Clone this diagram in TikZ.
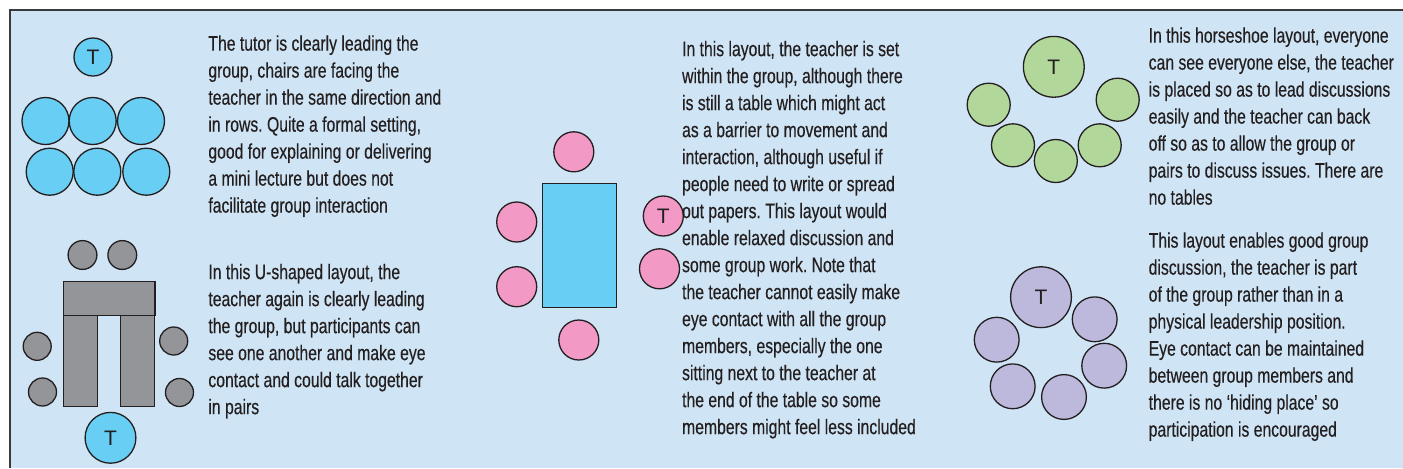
\documentclass[tikz,border=0pt]{standalone}
\usepackage{fontspec}
\setmainfont{Liberation Sans}
\newfontfamily\notefont[FakeStretch=0.75,FakeBold=0.35]{Liberation Sans}
\usetikzlibrary{positioning}
\frenchspacing
\definecolor{panelbg}{HTML}{CFE4F4}
\definecolor{ink}{HTML}{231F20}
\definecolor{frame}{HTML}{3A3A3C}
\definecolor{skyseat}{HTML}{68CEF4}
\definecolor{pinkseat}{HTML}{F29AC5}
\definecolor{greenseat}{HTML}{B1D79A}
\definecolor{lilacseat}{HTML}{BDB9DC}
\definecolor{greydesk}{HTML}{939598}
\tikzset{
  seat/.style={draw=ink, circle, line width=0.65pt, inner sep=0pt, text=ink, font=\fontsize{10.5}{12}\selectfont},
  desk/.style={draw=ink, rectangle, line width=0.65pt, inner sep=0pt},
  note/.style={anchor=north west, inner sep=0pt, align=left, text=ink, font=\notefont\fontsize{10.5}{13.5}\selectfont},
}

\begin{document}
\begin{tikzpicture}[x=0.5pt, y=-0.5pt]
  \useasboundingbox (0,0) rectangle (1403,468);
  \fill[panelbg] (10,10) rectangle (1403,468);
  \draw[frame, line width=1pt] (10,468) -- (10,10) -- (1403,10);

  % rows facing the tutor
  \node[seat, fill=skyseat, minimum size=19pt] (rowsT) at (93,57) {T};
  \node[seat, fill=skyseat, minimum size=23.5pt] (rowA1) at (45.5,121) {};
  \node[seat, fill=skyseat, minimum size=23.5pt] (rowA2) at (92.7,121) {};
  \node[seat, fill=skyseat, minimum size=23.5pt] (rowA3) at (141,121) {};
  \node[seat, fill=skyseat, minimum size=23.5pt] (rowB1) at (49.7,171.7) {};
  \node[seat, fill=skyseat, minimum size=23.5pt] (rowB2) at (97.3,171.7) {};
  \node[seat, fill=skyseat, minimum size=23.5pt] (rowB3) at (146.3,171.7) {};
  \node[note] (rowsnote) at (208,35) {The tutor is clearly leading the\\group, chairs are facing the\\teacher in the same direction and\\in rows. Quite a formal setting,\\good for explaining or delivering\\a mini lecture but does not\\facilitate group interaction};

  % U-shape
  \node[desk, fill=greydesk, minimum width=45.85pt, minimum height=17pt] (ubar) at (109.2,298.7) {};
  \node[desk, fill=greydesk, minimum width=17.2pt, minimum height=45.5pt] (uleft) at (80.5,361.2) {};
  \node[desk, fill=greydesk, minimum width=17.2pt, minimum height=45.5pt] (uright) at (137.5,361.2) {};
  \node[seat, fill=greydesk, minimum size=14.4pt] (utop1) at (82.5,255) {};
  \node[seat, fill=greydesk, minimum size=14.4pt] (utop2) at (122.3,255) {};
  \node[seat, fill=greydesk, minimum size=14pt] (uwest1) at (37.2,346.3) {};
  \node[seat, fill=greydesk, minimum size=14pt] (uwest2) at (42.5,392) {};
  \node[seat, fill=greydesk, minimum size=14pt] (ueast1) at (173.7,341) {};
  \node[seat, fill=greydesk, minimum size=14pt] (ueast2) at (179.5,392.5) {};
  \node[seat, fill=skyseat, minimum size=25.4pt] (uT) at (110.5,437.8) {T};
  \node[note] (ushapenote) at (208,263.5) {In this U-shaped layout, the\\teacher again is clearly leading\\the group, but participants can\\see one another and make eye\\contact and could talk together\\in pairs};

  % round a table
  \node[desk, fill=skyseat, minimum width=37.2pt, minimum height=62pt] (table) at (579.5,245.7) {};
  \node[seat, fill=pinkseat, minimum size=20pt] (tnorth) at (573.8,151.8) {};
  \node[seat, fill=pinkseat, minimum size=20pt] (twest1) at (516.7,222) {};
  \node[seat, fill=pinkseat, minimum size=20pt] (twest2) at (516.7,286.7) {};
  \node[seat, fill=pinkseat, minimum size=20pt] (tableT) at (663.3,216) {T};
  \node[seat, fill=pinkseat, minimum size=20pt] (teast) at (659.5,268.8) {};
  \node[seat, fill=pinkseat, minimum size=20pt] (tsouth) at (578.8,340) {};
  \node[note] (tablenote) at (681.7,40.5) {In this layout, the teacher is set\\within the group, although there\\is still a table which might act\\as a barrier to movement and\\interaction, although useful if\\people need to write or spread\\out papers. This layout would\\enable relaxed discussion and\\some group work. Note that\\the teacher cannot easily make\\eye contact with all the group\\members, especially the one\\sitting next to the teacher at\\the end of the table so some\\members might feel less included};

  % horseshoe
  \node[seat, fill=greenseat, minimum size=30.4pt] (shoeT) at (1053.8,66.8) {T};
  \node[seat, fill=greenseat, minimum size=21.5pt] (shoe1) at (988.7,104.7) {};
  \node[seat, fill=greenseat, minimum size=21.5pt] (shoe2) at (1013,145.3) {};
  \node[seat, fill=greenseat, minimum size=21.5pt] (shoe5) at (1117.7,99.7) {};
  \node[seat, fill=greenseat, minimum size=21.5pt] (shoe4) at (1099.7,145.3) {};
  \node[seat, fill=greenseat, minimum size=21.5pt] (shoe3) at (1055.8,161) {};
  \node[note] (shoenote) at (1148.3,27) {In this horseshoe layout, everyone\\can see everyone else, the teacher\\is placed so as to lead discussions\\easily and the teacher can back\\off so as to allow the group or\\pairs to discuss issues. There are\\no tables};

  % circle
  \node[seat, fill=lilacseat, minimum size=30.4pt] (ringT) at (1041,297.2) {T};
  \node[seat, fill=lilacseat, minimum size=22.4pt] (ring1) at (1094.7,319.3) {};
  \node[seat, fill=lilacseat, minimum size=22.4pt] (ring2) at (1104.2,365.7) {};
  \node[seat, fill=lilacseat, minimum size=22.4pt] (ring3) at (1064,397) {};
  \node[seat, fill=lilacseat, minimum size=22.4pt] (ring4) at (1012.7,386.3) {};
  \node[seat, fill=lilacseat, minimum size=22.4pt] (ring5) at (996.7,339.7) {};
  \node[note] (ringnote) at (1148.3,232) {This layout enables good group\\discussion, the teacher is part\\of the group rather than in a\\physical leadership position.\\Eye contact can be maintained\\between group members and\\there is no ‘hiding place’ so\\participation is encouraged};
\end{tikzpicture}
\end{document}
